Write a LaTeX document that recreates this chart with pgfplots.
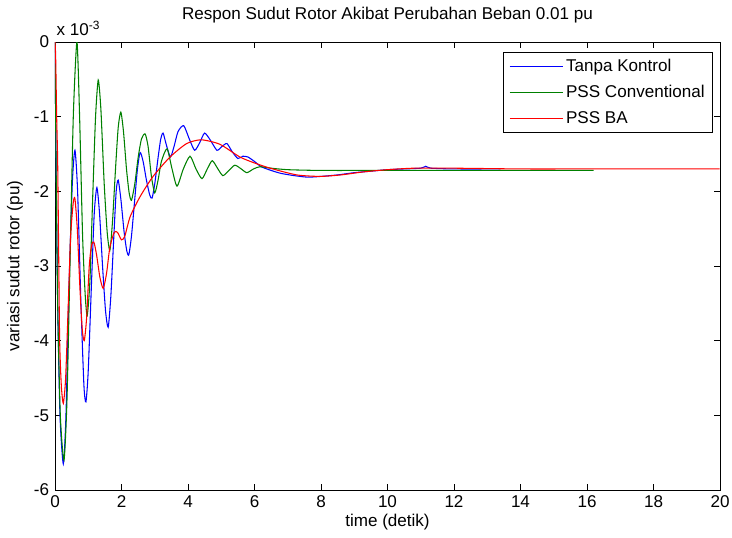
\documentclass[border=0pt]{standalone}
\usepackage{fontspec}
\setmainfont{Liberation Sans}
\usepackage{pgfplots}
\pgfplotsset{compat=1.18}

\begin{document}
\fontsize{12.8}{15}\selectfont
\begin{tikzpicture}
\path[use as bounding box] (-41.25pt,-35.25pt) rectangle (507.75pt,367.5pt);
\begin{axis}[
  name=ax,
  at={(0,0)}, anchor=south west,
  scale only axis,
  width=498.75pt, height=336pt,
  xmin=0, xmax=20, ymin=-6, ymax=0,
  xtick={0,2,...,20},
  xticklabels={0,2,4,6,8,10,12,14,16,18,20},
  ytick={-6,-5,-4,-3,-2,-1,0},
  yticklabels={-6,-5,-4,-3,-2,-1,0},
  tick align=inside,
  major tick length=4.5pt,
  axis line style={line width=0.6pt},
  every tick/.style={black, line width=0.6pt},
  title={Respon Sudut Rotor Akibat Perubahan Beban 0.01 pu},
  title style={at={(0.5,1)}, anchor=base, yshift=11pt},
  xlabel={time (detik)},
  xlabel style={at={(axis description cs:0.5,0)}, anchor=center, yshift=-24pt},
  ylabel={variasi sudut rotor (pu)},
  ylabel style={at={(axis description cs:-0.0602,0.5)}, anchor=center},
  legend cell align=left,
  legend image code/.code={\draw[#1, line width=0.8pt] (0pt,0pt) -- (40pt,0pt);},
  legend style={at={(1,1)}, anchor=north east, xshift=-5.25pt, yshift=-7.5pt,
    draw=black, line width=0.6pt, fill=white, inner xsep=4pt, inner ysep=3pt,
    row sep=4.5pt, nodes={inner sep=2pt}},
]
% Tanpa Kontrol
\addplot[color={rgb,255:red,0;green,0;blue,255}, line width=0.8pt, smooth, tension=0.4] coordinates {
(0,0) (0.03,-1.5) (0.08,-3.5) (0.15,-5.0) (0.25,-5.65) (0.33,-5.0) (0.42,-3.3)
(0.52,-1.9) (0.6,-1.45) (0.68,-2.0) (0.78,-3.5) (0.87,-4.6) (0.93,-4.82)
(1.0,-4.4) (1.1,-3.2) (1.18,-2.3) (1.26,-1.95) (1.34,-2.3) (1.43,-3.0)
(1.52,-3.6) (1.6,-3.82) (1.68,-3.4) (1.77,-2.6) (1.84,-2.0) (1.9,-1.85)
(1.98,-2.1) (2.08,-2.55) (2.16,-2.8) (2.22,-2.85) (2.3,-2.6) (2.4,-2.1)
(2.48,-1.7) (2.56,-1.48) (2.65,-1.6) (2.75,-1.85) (2.85,-2.05) (2.92,-2.09)
(3.0,-1.9) (3.1,-1.55) (3.18,-1.3) (3.25,-1.22) (3.35,-1.38) (3.47,-1.54)
(3.58,-1.4) (3.7,-1.2) (3.87,-1.12) (4.04,-1.3) (4.2,-1.45) (4.35,-1.35)
(4.5,-1.22) (4.68,-1.32) (4.87,-1.45) (5.02,-1.4) (5.17,-1.36) (5.33,-1.47)
(5.5,-1.56) (5.65,-1.53) (5.8,-1.54) (6.0,-1.6) (6.2,-1.67) (6.5,-1.72)
(6.8,-1.76) (7.2,-1.79) (7.6,-1.81) (8.0,-1.8) (8.5,-1.78) (9.0,-1.75)
(9.5,-1.73) (10.0,-1.71) (10.5,-1.7) (11.0,-1.69) (11.15,-1.665) (11.3,-1.69)
(12,-1.7) (13.4,-1.7)
};
\addlegendentry{Tanpa Kontrol}
% PSS Conventional
\addplot[color={rgb,255:red,0;green,128;blue,0}, line width=0.8pt, smooth, tension=0.4] coordinates {
(0,0) (0.03,-1.5) (0.08,-3.5) (0.16,-5.0) (0.27,-5.6) (0.36,-4.8) (0.45,-3.0)
(0.55,-1.0) (0.66,0) (0.74,-1.0) (0.83,-2.6) (0.91,-3.4) (0.97,-3.66)
(1.05,-3.2) (1.14,-2.0) (1.22,-1.0) (1.3,-0.51) (1.38,-0.9) (1.48,-1.9)
(1.57,-2.55) (1.65,-2.79) (1.73,-2.4) (1.82,-1.7) (1.9,-1.15) (1.98,-0.94)
(2.06,-1.2) (2.15,-1.7) (2.23,-2.02) (2.3,-2.12) (2.4,-1.9) (2.5,-1.55)
(2.6,-1.3) (2.71,-1.23) (2.8,-1.4) (2.9,-1.8) (3.0,-2.02) (3.1,-1.85)
(3.2,-1.6) (3.37,-1.43) (3.52,-1.7) (3.67,-1.93) (3.86,-1.7) (4.06,-1.53)
(4.24,-1.7) (4.42,-1.83) (4.58,-1.7) (4.73,-1.59) (4.9,-1.7) (5.05,-1.79)
(5.23,-1.72) (5.41,-1.65) (5.6,-1.7) (5.77,-1.75) (5.97,-1.7) (6.17,-1.67)
(6.5,-1.69) (7.0,-1.71) (8.0,-1.72) (10,-1.72) (13,-1.72) (16.2,-1.72)
};
\addlegendentry{PSS Conventional}
% PSS BA
\addplot[color={rgb,255:red,255;green,0;blue,0}, line width=0.8pt, smooth, tension=0.4] coordinates {
(0,0) (0.02,-0.2) (0.05,-1.0) (0.08,-1.6) (0.11,-2.8) (0.14,-4.0) (0.19,-4.6)
(0.25,-4.84) (0.32,-4.5) (0.4,-3.5) (0.47,-2.6) (0.55,-2.15) (0.6,-2.1)
(0.67,-2.5) (0.75,-3.3) (0.82,-3.85) (0.88,-4.0) (0.95,-3.7) (1.03,-3.0)
(1.1,-2.72) (1.17,-2.68) (1.25,-2.85) (1.35,-3.15) (1.45,-3.3) (1.55,-3.1)
(1.65,-2.75) (1.78,-2.55) (1.88,-2.55) (2.0,-2.65) (2.1,-2.6) (2.26,-2.34)
(2.56,-2.07) (2.95,-1.8) (3.46,-1.54) (3.96,-1.36) (4.4,-1.31) (4.96,-1.37)
(5.56,-1.54) (6.0,-1.62) (6.47,-1.69) (7.27,-1.78) (7.97,-1.8) (8.6,-1.78)
(9.27,-1.74) (10.0,-1.71) (10.8,-1.69) (12,-1.69) (14,-1.7) (16,-1.7)
(18,-1.7) (19.99,-1.7)
};
\addlegendentry{PSS BA}
\end{axis}
\node[anchor=base west, inner sep=0pt, xshift=1pt, yshift=5pt] at (ax.north west) {x 10\textsuperscript{-3}};
\end{tikzpicture}
\end{document}
